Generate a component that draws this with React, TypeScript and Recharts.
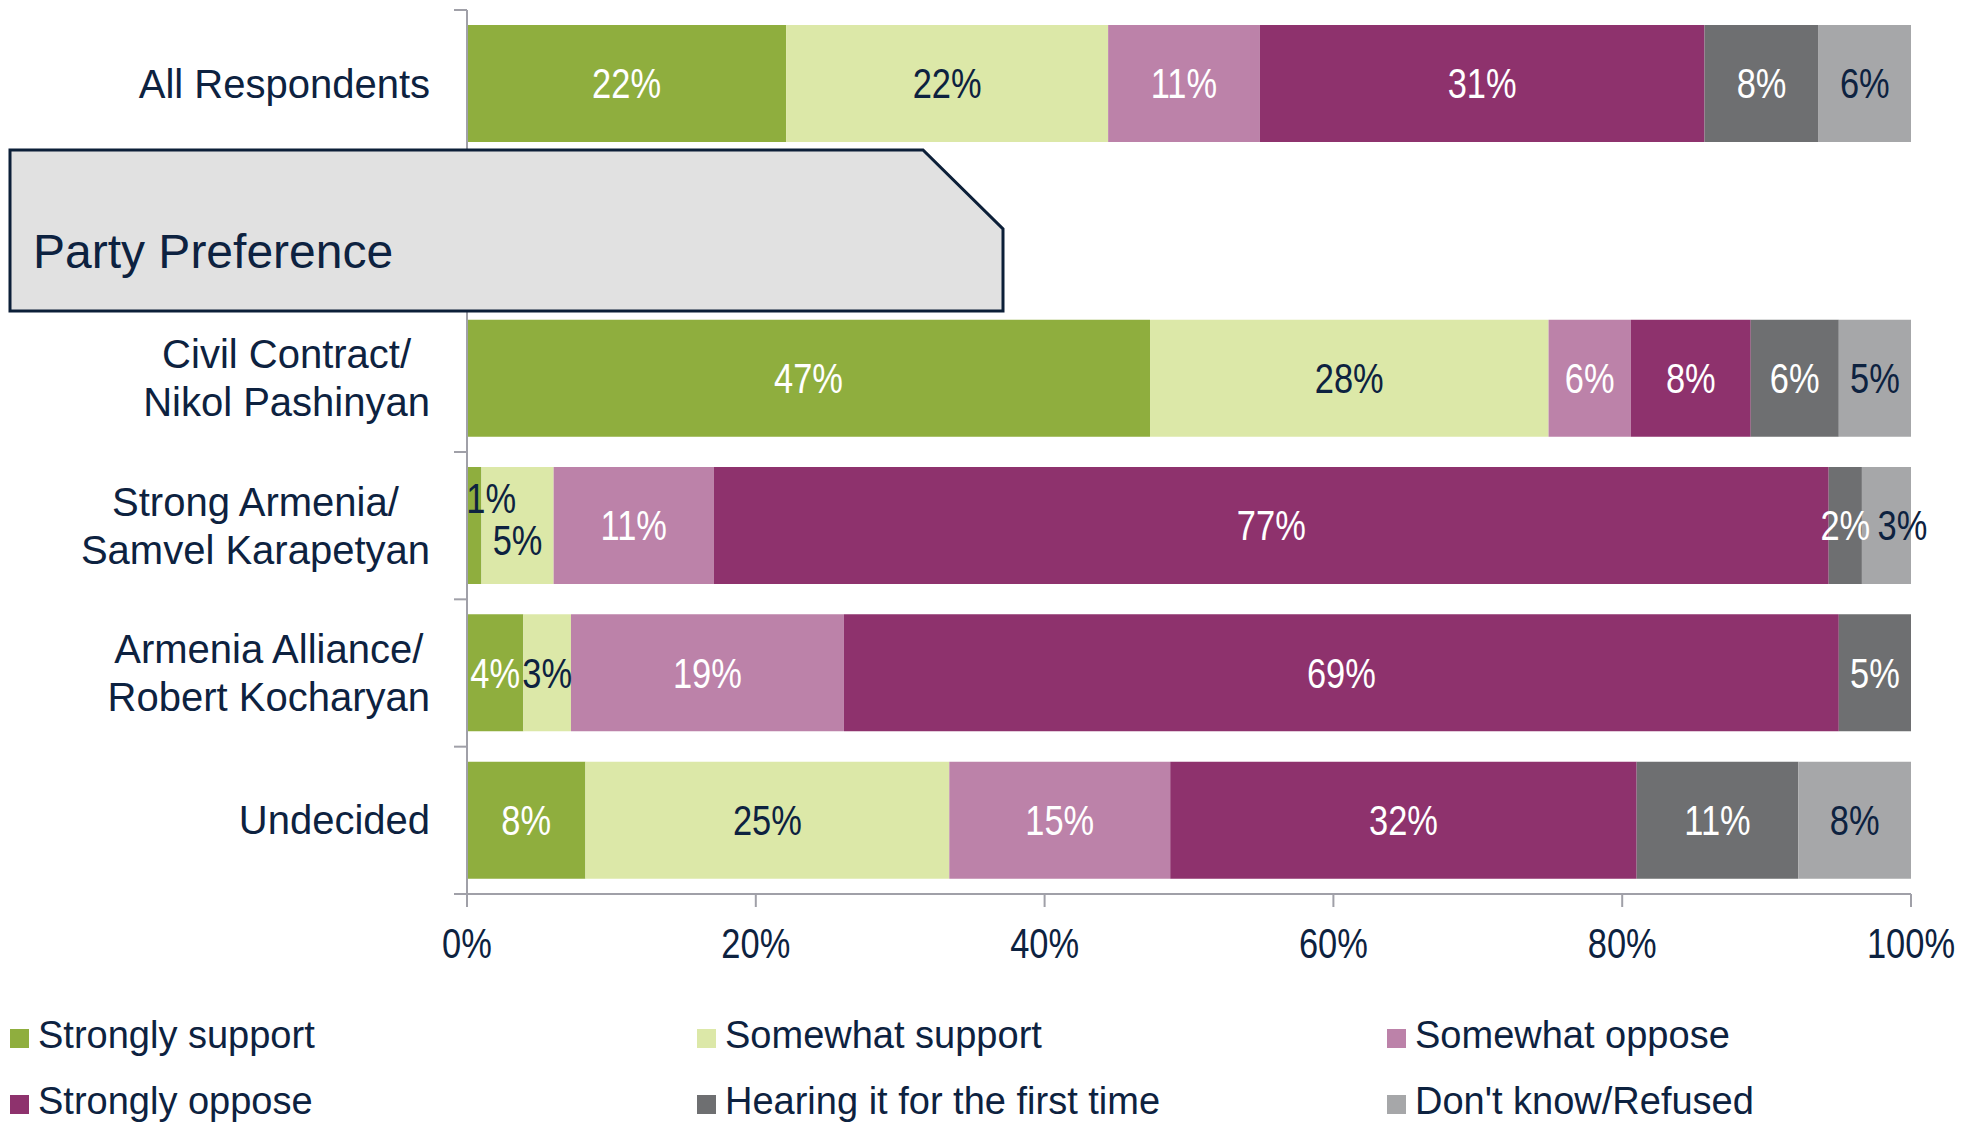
import React from "react";
import { BarChart, Bar, XAxis, YAxis, LabelList } from "recharts";

const categories = [
  "All Respondents",
  "",
  "Civil Contract/\nNikol Pashinyan",
  "Strong Armenia/\nSamvel Karapetyan",
  "Armenia Alliance/\nRobert Kocharyan",
  "Undecided",
];

const stronglySupport = [22.1, 0, 47.3, 1.0, 3.9, 8.2];
const somewhatSupport = [22.3, 0, 27.6, 5.0, 3.3, 25.2];
const somewhatOppose = [10.5, 0, 5.7, 11.1, 18.9, 15.3];
const stronglyOppose = [30.8, 0, 8.3, 77.2, 68.9, 32.3];
const hearingFirst = [7.9, 0, 6.1, 2.3, 5.0, 11.2];
const dontKnow = [6.4, 0, 5.0, 3.4, 0, 7.8];

const seriesNames = [
  "Strongly support",
  "Somewhat support",
  "Somewhat oppose",
  "Strongly oppose",
  "Hearing it for the first time",
  "Don't know/Refused",
];
const seriesKeys = ["ss", "sws", "swo", "so", "hf", "dk"];
const seriesValues = [stronglySupport, somewhatSupport, somewhatOppose, stronglyOppose, hearingFirst, dontKnow];
const seriesColors = ["#8FAE3E", "#DCE8A8", "#BC82A9", "#8E326D", "#6E6F71", "#A6A7A9"];
const NAVY = "#0D2240";
const labelColors = ["#FFFFFF", NAVY, "#FFFFFF", "#FFFFFF", "#FFFFFF", NAVY];

const xTicks = [0, 20, 40, 60, 80, 100];
const groupTitle = "Party Preference";

// label nudges for crowded segments (category index - series index)
const labelNudge: Record<string, { dx: number; dy: number; color?: string }> = {
  "3-0": { dx: 17, dy: -27, color: NAVY },
  "3-1": { dx: 0, dy: 15 },
  "3-5": { dx: 16, dy: 0 },
};

const data = categories.map((name, i) => {
  const row: Record<string, any> = { name };
  seriesKeys.forEach((k, s) => {
    row[k] = seriesValues[s][i];
  });
  return row;
});

const W = 1971;
const H = 1123;
const AXIS_X = 467;
const PLOT_RIGHT = 1911;
const PLOT_TOP = 10;
const PLOT_BOTTOM = 894;
const X_AXIS_H = 60;
const AXIS_COLOR = "#A0A0A8";
const TEXT_FONT = "'Liberation Sans', Arial, sans-serif";
const NUM_SCALE = 0.82;

let measureCtx: CanvasRenderingContext2D | null = null;
function measure(text: string, font: string) {
  if (!measureCtx) {
    const c = document.createElement("canvas");
    measureCtx = c.getContext("2d");
  }
  if (!measureCtx) return text.length * 20;
  measureCtx.font = font;
  return measureCtx.measureText(text).width;
}

const band = (PLOT_BOTTOM - PLOT_TOP) / categories.length;

const YTick = (props: any) => {
  const { y, payload, index } = props;
  const lines = String(payload.value).split("\n").filter((l) => l.length);
  const right = AXIS_X - 37;
  const blockW = Math.max(0, ...lines.map((l) => measure(l, `40px "Liberation Sans"`)));
  const cx = right - blockW / 2;
  const lh = 48;
  const startY = y - ((lines.length - 1) * lh) / 2;
  return (
    <g>
      <line x1={AXIS_X - 13} x2={AXIS_X} y1={y - band / 2} y2={y - band / 2} stroke={AXIS_COLOR} strokeWidth={2} />
      {index === categories.length - 1 && (
        <line x1={AXIS_X - 13} x2={AXIS_X} y1={y + band / 2} y2={y + band / 2} stroke={AXIS_COLOR} strokeWidth={2} />
      )}
      {lines.map((l, i) => (
        <text
          key={i}
          x={cx}
          y={startY + i * lh}
          dy="0.35em"
          textAnchor="middle"
          fill={NAVY}
          style={{ fontFamily: TEXT_FONT, fontSize: 40 }}
        >
          {l}
        </text>
      ))}
    </g>
  );
};

const XTick = (props: any) => {
  const { x, y, payload } = props;
  return (
    <text
      transform={`translate(${x},${y + 34}) scale(${NUM_SCALE},1)`}
      x={0}
      y={0}
      dy="0.35em"
      textAnchor="middle"
      fill={NAVY}
      style={{ fontFamily: TEXT_FONT, fontSize: 42 }}
    >
      {`${payload.value}%`}
    </text>
  );
};

const makeLabel = (s: number) => (props: any) => {
  const { x, y, width, height, value } = props;
  if (value == null || value === 0) return null;
  const row = Math.floor((y + height / 2 - PLOT_TOP) / band);
  const n = labelNudge[`${row}-${s}`] || { dx: 0, dy: 0 };
  const cx = x + width / 2 + n.dx;
  const cy = y + height / 2 + n.dy;
  return (
    <text
      transform={`translate(${cx},${cy}) scale(${NUM_SCALE},1)`}
      x={0}
      y={0}
      dy="0.35em"
      textAnchor="middle"
      fill={n.color || labelColors[s]}
      style={{ fontFamily: TEXT_FONT, fontSize: 42 }}
    >
      {`${Math.round(value)}%`}
    </text>
  );
};

const legendCols = [10, 697, 1387];
const legendRows = [1035, 1101];

export default function App() {
  return (
    <div style={{ position: "absolute", left: 0, top: 0, width: W, height: H, background: "#fff" }}>
      <BarChart
        width={W}
        height={H}
        data={data}
        layout="vertical"
        margin={{ top: PLOT_TOP, right: W - PLOT_RIGHT, bottom: H - PLOT_BOTTOM - X_AXIS_H, left: 0 }}
        barSize={117}
      >
        <XAxis
          type="number"
          domain={[0, 100]}
          ticks={xTicks}
          height={X_AXIS_H}
          tickSize={13}
          tickMargin={2}
          tick={<XTick />}
          axisLine={{ stroke: AXIS_COLOR, strokeWidth: 2 }}
          tickLine={{ stroke: AXIS_COLOR, strokeWidth: 2 }}
          interval={0}
        />
        <YAxis
          type="category"
          dataKey="name"
          width={AXIS_X}
          tick={<YTick />}
          tickLine={false}
          axisLine={{ stroke: AXIS_COLOR, strokeWidth: 2 }}
          interval={0}
        />
        {seriesKeys.map((k, s) => (
          <Bar key={k} dataKey={k} stackId="a" fill={seriesColors[s]} isAnimationActive={false} name={seriesNames[s]}>
            <LabelList dataKey={k} content={makeLabel(s)} />
          </Bar>
        ))}
      </BarChart>

      <svg width={W} height={H} style={{ position: "absolute", left: 0, top: 0, pointerEvents: "none" }}>
        <polygon
          points="10,150 923,150 1003,229 1003,311 10,311"
          fill="#E1E1E1"
          stroke="#0C1F38"
          strokeWidth={3}
        />
        <text x={33} y={268} fill={NAVY} style={{ fontFamily: TEXT_FONT, fontSize: 48 }}>
          {groupTitle}
        </text>
      </svg>

      {seriesNames.map((nm, i) => {
        const col = i % 3;
        const row = Math.floor(i / 3);
        return (
          <div
            key={nm}
            style={{
              position: "absolute",
              left: legendCols[col],
              top: legendRows[row] - 22,
              height: 44,
              display: "flex",
              alignItems: "center",
              fontFamily: TEXT_FONT,
              fontSize: 38,
              color: NAVY,
              whiteSpace: "nowrap",
            }}
          >
            <span style={{ display: "inline-block", width: 19, height: 19, background: seriesColors[i], marginRight: 9, marginTop: 6 }} />
            <span>{nm}</span>
          </div>
        );
      })}
    </div>
  );
}
